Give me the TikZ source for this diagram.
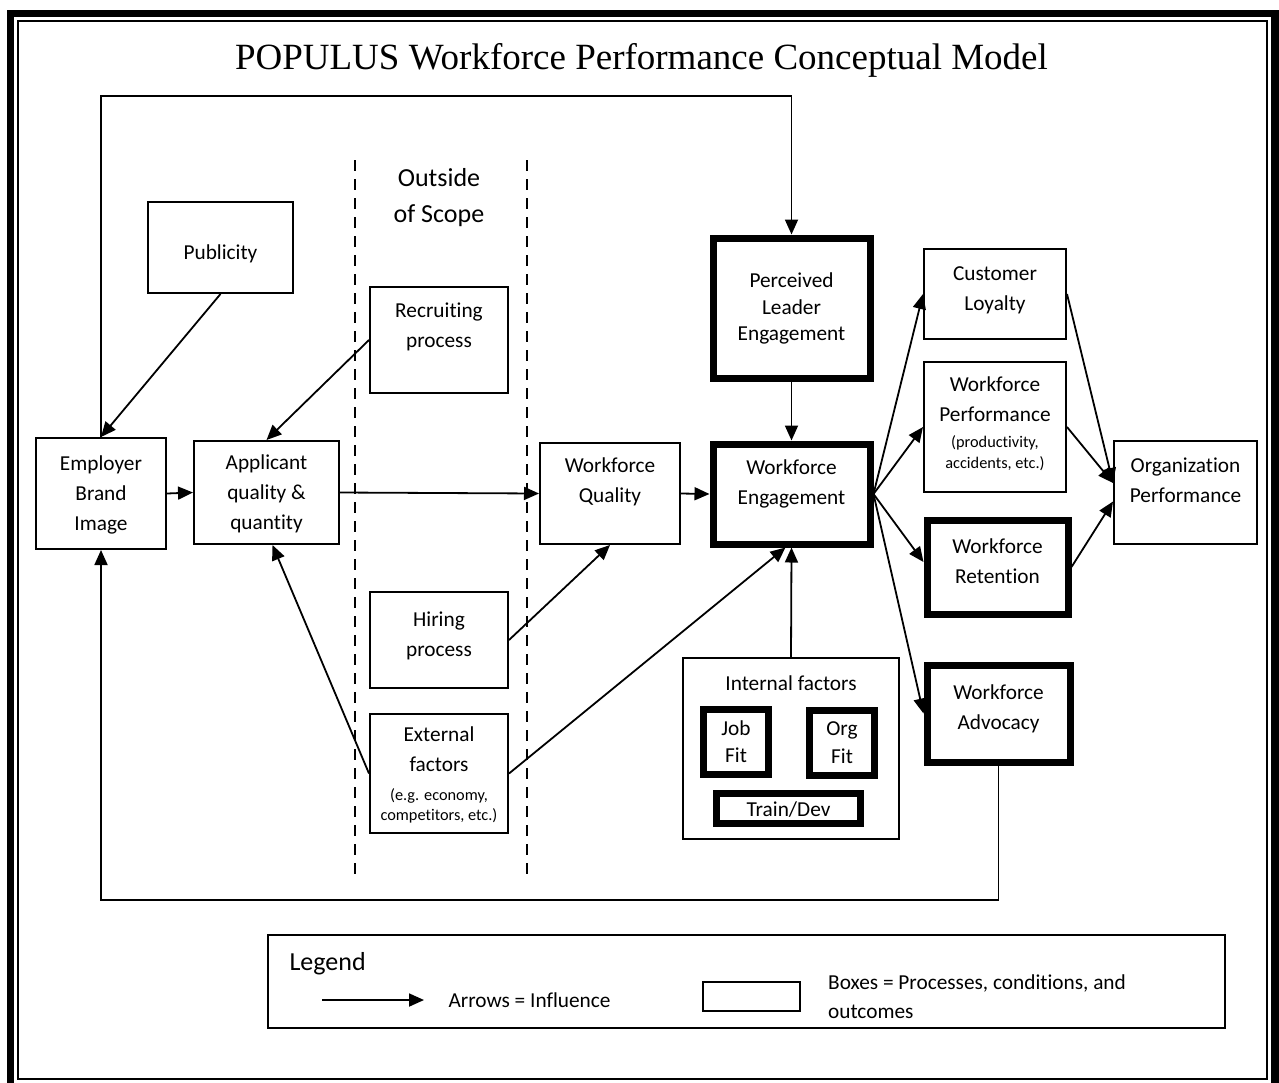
\documentclass[tikz,border=0pt]{standalone}
\usepackage{fontspec}
\setmainfont{Carlito}[Ligatures=NoCommon]
\newfontfamily\titlefont{Liberation Serif}
\usetikzlibrary{arrows.meta}

\newcommand{\bodysize}{\fontsize{21.3}{30}\selectfont}
\newcommand{\smallsize}{\fontsize{16.3}{21}\selectfont}

\tikzset{
  box/.style={draw, line width=2pt, align=center, font=\bodysize, inner sep=0pt},
  heavybox/.style={box, line width=7pt},
  link/.style={-{Triangle[length=15pt,width=13pt]}, line width=1.8pt},
  scopeline/.style={line width=2.6pt, dash pattern=on 11pt off 8pt},
}

\begin{document}
\begin{tikzpicture}[x=1pt, y=-1pt]
  \useasboundingbox (0,0) rectangle (1279,1082);
  % double frame
  \draw[line width=7.5pt] (10.5,13.5) rectangle (1275,1090);
  \draw[line width=2pt] (18,21) rectangle (1267,1079);

  \node[font=\titlefont\fontsize{37}{42}\selectfont] (title) at (641.5,60)
    {POPULUS Workforce Performance Conceptual Model};

  % out of scope band
  \draw[scopeline] (355,160) -- (355,878);
  \draw[scopeline] (527,160) -- (527,878);
  \node[align=center, font=\fontsize{26}{36}\selectfont] (scope) at (439,198) {Outside\\of Scope};

  % boxes
  \node[box, minimum width=145, minimum height=91, text height=27pt] (pub) at (220.5,247.5) {Publicity};
  \node[box, minimum width=138, minimum height=106, text depth=30pt] (recr) at (439,340) {Recruiting\\process};
  \node[box, minimum width=130, minimum height=111, text depth=1pt] (brand) at (101,493.5) {Employer\\Brand\\Image};
  \node[box, minimum width=145, minimum height=103, text depth=-5pt] (appl) at (266.5,492.5) {Applicant\\quality \&\\quantity};
  \node[box, minimum width=140, minimum height=101, text depth=27pt] (wq) at (610,493.5) {Workforce\\Quality};
  \node[box, minimum width=138, minimum height=96, text depth=11pt] (hire) at (439,640) {Hiring\\process};
  \node[box, minimum width=138, minimum height=119, text depth=-6pt] (ext) at (439,773.5)
    {External\\factors\\[-1pt]{\smallsize (e.g. economy,}\\[-10pt]{\smallsize competitors, etc.)}};

  \node[heavybox, minimum width=157, minimum height=140] (lead) at (791.5,308)
    {Perceived\\[-3pt]Leader\\[-4pt]Engagement};
  \node[heavybox, minimum width=157, minimum height=100, text depth=23pt] (eng) at (791.5,494)
    {Workforce\\Engagement};

  \node[box, minimum width=142, minimum height=90, text depth=10pt] (loyal) at (995,294) {Customer\\Loyalty};
  \node[box, minimum width=142, minimum height=130, text depth=8pt] (perf) at (995,427)
    {Workforce\\Performance\\[-4pt]{\smallsize (productivity,}\\[-9pt]{\smallsize accidents, etc.)}};
  \node[heavybox, minimum width=141, minimum height=94, text depth=12pt] (ret) at (997.5,567) {Workforce\\Retention};
  \node[heavybox, minimum width=143, minimum height=97, text depth=13pt] (adv) at (998.5,713.5) {Workforce\\Advocacy};
  \node[box, minimum width=143, minimum height=103, text depth=25pt] (org) at (1185.5,492.5) {Organization\\Performance};

  % internal factors group
  \node[box, minimum width=216, minimum height=181, text depth=130pt] (intf) at (791,748.5) {Internal factors};
  \node[heavybox, minimum width=65, minimum height=65, text depth=1pt] (job) at (736,742) {Job\\[-3pt]Fit};
  \node[heavybox, minimum width=65, minimum height=65, text depth=1pt] (orgfit) at (842,743) {Org\\[-2pt]Fit};
  \node[heavybox, minimum width=144, minimum height=30, text height=17pt] (train) at (788.5,808.5) {Train/Dev};

  % influences
  \coordinate (loopT) at (101,96);
  \coordinate (loopB) at (101,900);
  \draw[link] (brand.north) -- (loopT) -| (lead.north);
  \draw[link] (adv.south) |- (loopB) -- (brand.south);

  \draw[link] (pub.south) -- (brand.north);
  \draw[link] (recr.west) -- (appl.north);
  \draw[link] (brand.east) -- (appl.west);
  \draw[link] (appl.east) -- (wq.west);
  \draw[link] (hire.east) -- (wq.south);
  \draw[link] (ext.west) -- ([xshift=6pt]appl.south);
  \draw[link] (ext.east) -- ([xshift=-6pt]eng.south);
  \draw[link] (wq.east) -- (eng.west);
  \draw[link] (lead.south) -- (eng.north);
  \draw[link] (intf.north) -- (eng.south);

  \draw[link] (eng.east) -- (loyal.west);
  \draw[link] (eng.east) -- (perf.west);
  \draw[link] (eng.east) -- ([yshift=5pt]ret.west);
  \draw[link] (eng.east) -- (adv.west);

  \draw[link] (loyal.east) -- ([yshift=9.5pt]org.west);
  \draw[link] (perf.east) -- ([yshift=9.5pt]org.west);
  \draw[link] (ret.east) -- ([yshift=-9pt]org.west);

  % legend
  \node[draw, line width=2pt, minimum width=957, minimum height=93] (legend) at (746.5,981.5) {};
  \node[font=\fontsize{26}{30}\selectfont, anchor=west] (legtitle) at (286,964) {Legend};
  \coordinate (arrA) at (322,1000);
  \coordinate (arrB) at (424,1000);
  \draw[link] (arrA) -- (arrB);
  \node[font=\bodysize, anchor=west] (arrtxt) at (445,1000) {Arrows = Influence};
  \node[draw, line width=2pt, minimum width=97, minimum height=29] (sample) at (751.5,996.5) {};
  \node[font=\bodysize, anchor=west, align=left, inner sep=0pt] (boxtxt) at (828,996.5)
    {Boxes = Processes, conditions, and\\[-1pt]outcomes};
\end{tikzpicture}
\end{document}
